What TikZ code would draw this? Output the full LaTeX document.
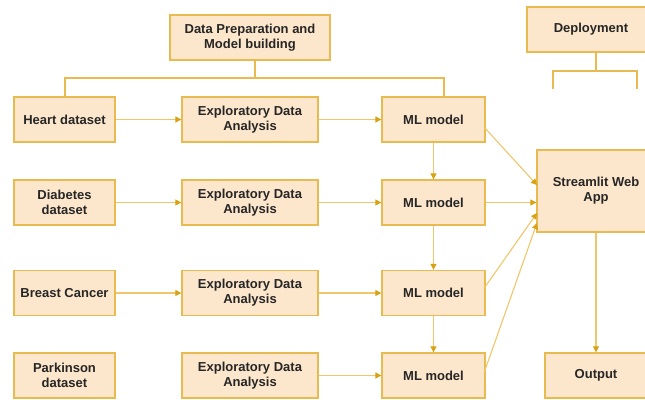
\documentclass[tikz,border=0pt]{standalone}
\usepackage{fontspec}
\setmainfont{Liberation Sans}
\usetikzlibrary{arrows.meta}
\definecolor{boxfill}{HTML}{FDE7CC}
\definecolor{boxline}{HTML}{E8BA50}
\definecolor{conline}{HTML}{EFC76A}
\definecolor{tipcol}{HTML}{D9A213}
\tikzset{
  blk/.style={draw=boxline, fill=boxfill, line width=1.3pt, align=center, inner sep=2pt,
    font=\fontsize{13}{15}\selectfont\bfseries, text=black!85},
  con/.style={draw=conline, line width=1.1pt, -{Triangle[length=6pt,width=6pt,color=tipcol,fill=tipcol]}},
  brk/.style={draw=boxline, line width=1.8pt}
}
\begin{document}
\begin{tikzpicture}[x=1pt,y=-1pt]
\useasboundingbox (0,0) rectangle (645,399);
\begin{scope}
\clip (0,0) rectangle (645,399);
% top nodes
\node[blk, minimum width=160pt, minimum height=45pt] (prep) at (250,37.5) {Data Preparation and\\Model building};
\node[blk, minimum width=128pt, minimum height=45pt] (dep) at (591,29.5) {Deployment};
% rows
\foreach \i/\y/\name in {1/119.5/{Heart dataset}, 2/202.5/{Diabetes\\dataset}, 3/293/{Breast Cancer}, 4/375.5/{Parkinson\\dataset}} {
  \node[blk, minimum width=101pt, minimum height=45pt] (ds\i) at (64.5,\y) {\name};
  \node[blk, minimum width=136pt, minimum height=45pt] (eda\i) at (250,\y) {Exploratory Data\\Analysis};
  \node[blk, minimum width=103pt, minimum height=45pt] (ml\i) at (433.5,\y) {ML model};
}
\node[blk, minimum width=118pt, minimum height=82pt] (app) at (596,191) {Streamlit Web\\App};
\node[blk, minimum width=102pt, minimum height=45pt] (out) at (596,375.5) {Output};
% bracket coordinates
\coordinate (pb) at (255,78);
\coordinate (bl) at (65,78);
\coordinate (br) at (444,78);
\coordinate (db) at (596,71);
\coordinate (dl) at (553,71);
\coordinate (dr) at (637,71);
\coordinate (dlb) at (553,89);
\coordinate (drb) at (637,89);
\draw[brk] (prep.south -| pb) -- (pb);
\draw[brk] (ds1.north -| bl) -- (bl) -- (br) -- (ml1.north -| br);
\draw[brk] (dep.south -| db) -- (db);
\draw[brk] (dlb) -- (dl) -- (dr) -- (drb);
% connector anchors
\coordinate (s1) at (484,127);
\coordinate (s3) at (485,287);
\coordinate (s4) at (484,373);
\coordinate (e1) at (537,185);
\coordinate (e3) at (537,213);
\coordinate (e4) at (537,223);
% connectors
\foreach \i in {1,2,3} {
  \draw[con] (ds\i.east) -- (eda\i.west);
}
\foreach \i in {1,2,3,4} {
  \draw[con] (eda\i.east) -- (ml\i.west);
}
\draw[con] (ml1.south) -- (ml2.north);
\draw[con] (ml2.south) -- (ml3.north);
\draw[con] (ml3.south) -- (ml4.north);
\draw[con] (s1) -- (e1);
\draw[con] (ml2.east) -- (app.west |- ml2.east);
\draw[con] (s3) -- (e3);
\draw[con] (s4) -- (e4);
\draw[con] (app.south) -- (out.north);
\end{scope}
\end{tikzpicture}
\end{document}
